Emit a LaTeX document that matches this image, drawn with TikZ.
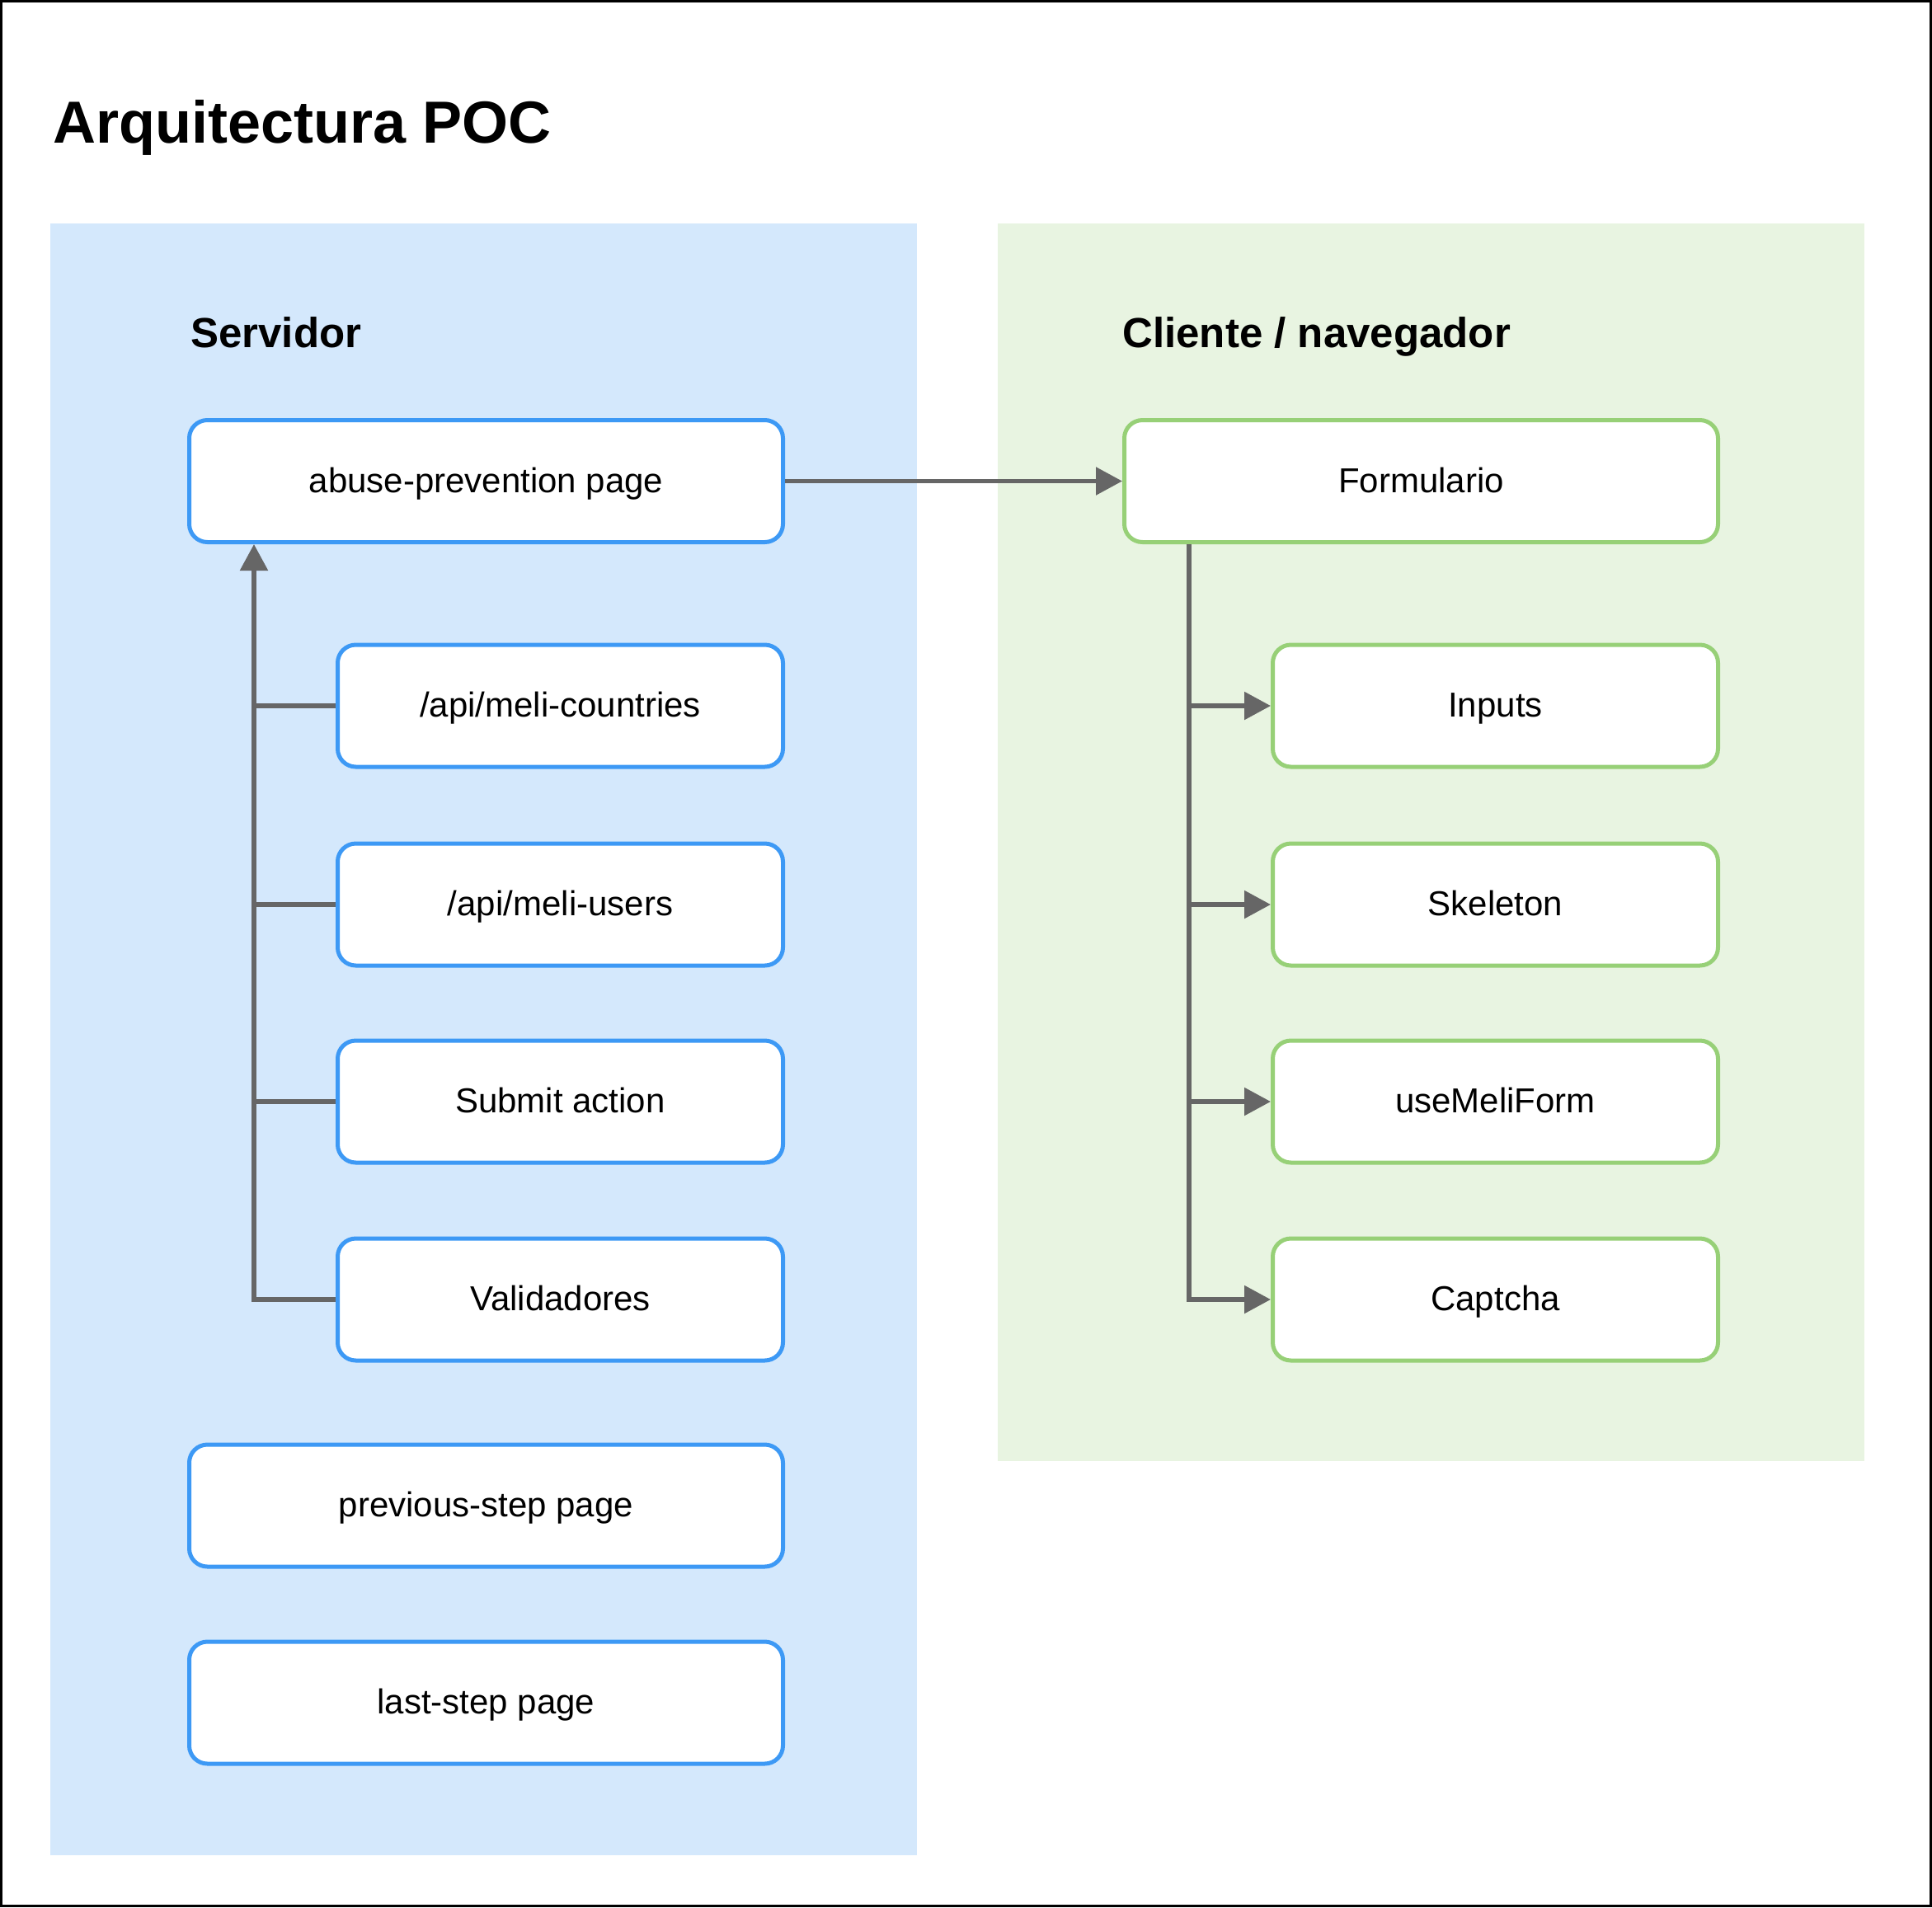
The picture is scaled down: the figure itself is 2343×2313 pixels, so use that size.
\documentclass[tikz,border=0pt]{standalone}
\usepackage{fontspec}
\setmainfont{Liberation Sans}
\usetikzlibrary{arrows.meta}
\definecolor{bluefill}{HTML}{D4E8FC}
\definecolor{greenfill}{HTML}{E8F4E1}
\definecolor{blueline}{HTML}{3D99F5}
\definecolor{greenline}{HTML}{97D077}
\definecolor{conngray}{HTML}{666666}
\tikzset{
  boxbase/.style={draw, fill=white, rounded corners=11pt, line width=2.5pt,
    minimum height=74pt, inner sep=0pt, text height=13.5pt, text depth=0pt,
    font=\fontsize{21}{25}\selectfont},
  bluebig/.style={boxbase, draw=blueline, minimum width=360pt},
  bluesmall/.style={boxbase, draw=blueline, minimum width=270pt},
  greenbig/.style={boxbase, draw=greenline, minimum width=360pt},
  greensmall/.style={boxbase, draw=greenline, minimum width=270pt},
  conn/.style={draw=conngray, line width=2.75pt},
  connarrow/.style={conn, -{Triangle[length=16pt,width=16.5pt,fill=conngray]}},
  sectlabel/.style={anchor=base west, inner sep=0pt, font=\fontsize{25.5}{30}\selectfont\bfseries},
}
\begin{document}
\begin{tikzpicture}[x=0.5pt,y=-0.5pt]
\useasboundingbox (0,0) rectangle (2343,2313);
\fill[white] (0,0) rectangle (2343,2313);
% panels
\fill[bluefill] (61,271) rectangle (1112,2250);
\fill[greenfill] (1210,271) rectangle (2261,1772);
% title and section labels
\node[anchor=base west, inner sep=0pt, font=\fontsize{36}{42}\selectfont\bfseries] (title) at (64,173) {Arquitectura POC};
\node[sectlabel] (servlbl) at (231,421) {Servidor};
\node[sectlabel] (clilbl) at (1361,421) {Cliente / navegador};
% server boxes
\node[bluebig] (abuse) at (589.5,583.5) {abuse-prevention page};
\node[bluesmall] (cty) at (679.5,856) {/api/meli-countries};
\node[bluesmall] (usr) at (679.5,1097) {/api/meli-users};
\node[bluesmall] (sub) at (679.5,1336) {Submit action};
\node[bluesmall] (val) at (679.5,1576) {Validadores};
\node[bluebig] (prev) at (589.5,1826) {previous-step page};
\node[bluebig] (last) at (589.5,2065) {last-step page};
% client boxes
\node[greenbig] (form) at (1723.5,583.5) {Formulario};
\node[greensmall] (inp) at (1813.5,856) {Inputs};
\node[greensmall] (skel) at (1813.5,1097) {Skeleton};
\node[greensmall] (umf) at (1813.5,1336) {useMeliForm};
\node[greensmall] (cap) at (1813.5,1576) {Captcha};
% connectors
\coordinate (lt) at (308,1576);
\draw[connarrow] (val.west) -- (lt) -- (lt |- abuse.south);
\draw[conn] (cty.west) -- (cty.west -| lt);
\draw[conn] (usr.west) -- (usr.west -| lt);
\draw[conn] (sub.west) -- (sub.west -| lt);
\draw[connarrow] (abuse.east) -- (form.west);
\coordinate (rt) at (1442,1576);
\draw[connarrow] (form.south -| rt) -- (rt) -- (cap.west);
\draw[connarrow] (inp.west -| rt) -- (inp.west);
\draw[connarrow] (skel.west -| rt) -- (skel.west);
\draw[connarrow] (umf.west -| rt) -- (umf.west);
% outer frame
\draw[black, line width=1.5pt] (1.5,1.5) rectangle (2341.5,2311.5);
\end{tikzpicture}
\end{document}
